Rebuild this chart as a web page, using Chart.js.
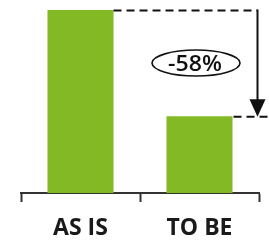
<!DOCTYPE html>
<html>
<head>
<meta charset="utf-8">
<script src="https://cdn.jsdelivr.net/npm/chart.js@4"></script>
<style>
html,body{margin:0;padding:0;background:#fff;}
#wrap{width:269px;height:246px;position:relative;}
</style>
</head>
<body>
<div id="wrap"><canvas id="c" width="269" height="246"></canvas></div>
<script>
const categories = ["AS IS", "TO BE"];
const values = [100, 42];

const changeLabel = Math.round((values[1] - values[0]) / values[0] * 100) + "%";

const annotationPlugin = {
  id: "changeAnnotation",
  afterDraw(chart) {
    const ctx = chart.ctx;
    const meta = chart.getDatasetMeta(0);
    const b0 = meta.data[0], b1 = meta.data[1];
    const area = chart.chartArea;
    const yTop = chart.scales.y.getPixelForValue(values[0]);
    const yBot = chart.scales.y.getPixelForValue(values[1]);
    const b0Right = b0.x + b0.width / 2;
    const b1Right = b1.x + b1.width / 2;
    const ax = area.right - 1.5;

    ctx.save();
    ctx.strokeStyle = "#111";
    ctx.fillStyle = "#111";
    ctx.lineWidth = 2;
    ctx.setLineDash([8, 5]);
    ctx.beginPath();
    ctx.moveTo(b0Right, yTop + 0.5);
    ctx.lineTo(ax, yTop + 0.5);
    ctx.stroke();
    ctx.beginPath();
    ctx.moveTo(b1Right + 1, yBot + 0.5);
    ctx.lineTo(ax + 11, yBot + 0.5);
    ctx.stroke();
    ctx.setLineDash([]);
    ctx.beginPath();
    ctx.moveTo(ax, yTop - 0.5);
    ctx.lineTo(ax, yBot - 12);
    ctx.stroke();
    ctx.beginPath();
    ctx.moveTo(ax - 8, yBot - 17);
    ctx.lineTo(ax + 8, yBot - 17);
    ctx.lineTo(ax, yBot + 0.5);
    ctx.closePath();
    ctx.fill();
    const cx = b1.x - 3.5;
    const cy = (yTop + yBot) / 2;
    ctx.lineWidth = 1.6;
    ctx.beginPath();
    ctx.ellipse(cx, cy, 44, 13, 0, 0, Math.PI * 2);
    ctx.stroke();
    ctx.translate(cx - 1, cy + 1.5);
    ctx.scale(1.1, 1);
    ctx.font = "600 21px 'Open Sans'";
    ctx.textAlign = "center";
    ctx.textBaseline = "middle";
    ctx.fillStyle = "#111";
    ctx.fillText(changeLabel, 0, 0);
    ctx.restore();
  }
};

new Chart(document.getElementById("c"), {
  type: "bar",
  data: {
    labels: categories,
    datasets: [{
      data: values,
      backgroundColor: "#84B926",
      borderWidth: 0,
      categoryPercentage: 1,
      barPercentage: 0.555
    }]
  },
  options: {
    responsive: false,
    animation: false,
    devicePixelRatio: 1,
    layout: { padding: { top: 10, left: 21, right: 10, bottom: 0 } },
    plugins: { legend: { display: false }, tooltip: { enabled: false } },
    scales: {
      y: { display: false, min: 0, max: 100 },
      x: {
        offset: true,
        afterFit(scale) { scale.height = 53; },
        border: { display: true, color: "#333", width: 2 },
        grid: {
          offset: true,
          drawOnChartArea: false,
          drawTicks: true,
          tickLength: 9,
          tickColor: "#333",
          tickWidth: 2
        },
        ticks: {
          color: "#1a1a1a",
          padding: 13,
          font: { family: "'Open Sans'", size: 23, weight: "bold", lineHeight: 1.2 }
        }
      }
    }
  },
  plugins: [annotationPlugin]
});
</script>
</body>
</html>
